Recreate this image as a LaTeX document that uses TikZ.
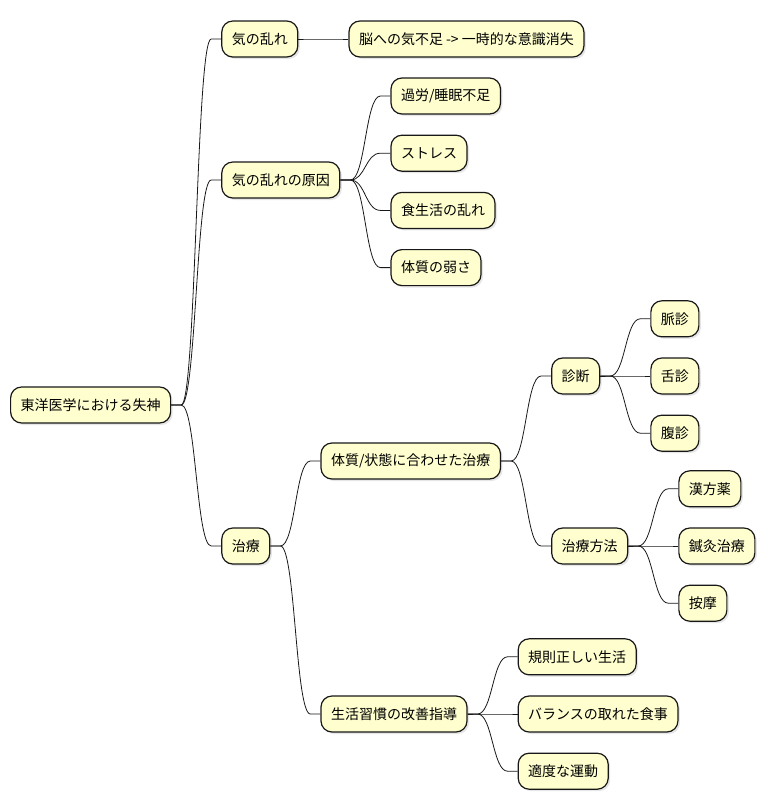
\documentclass[tikz,border=0pt]{standalone}
\usepackage{fontspec}
\setmainfont{Noto Sans CJK JP}
\usepackage{xcolor}
\usetikzlibrary{positioning,shadows}
\definecolor{mmFill}{HTML}{FEFECE}
\definecolor{mmInk}{HTML}{181818}
\newcommand{\branch}[2]{\draw[link] (#1.east) -- ++(10pt,0)
  .. controls +(15pt,0) and +(-15pt,0) .. ([xshift=-10pt]#2.west) -- (#2.west);}
\tikzset{
  topic/.style={rounded corners=11pt,draw=mmInk,line width=1.2pt,fill=mmFill,
                minimum height=36pt,inner xsep=10pt,inner ysep=0pt,
                font=\fontsize{14pt}{17pt}\selectfont,
                drop shadow={opacity=0.2,shadow xshift=2pt,shadow yshift=-2pt}},
  link/.style={draw=mmInk,line width=0.8pt},
}

\begin{document}
\begin{tikzpicture}
  \useasboundingbox (0,0) rectangle (759pt,-809pt);
  \node[topic,anchor=west] (root) at (10pt,-405pt) {東洋医学における失神};
  % first level
  \node[topic,right=50pt of root,yshift=366pt] (ki) {気の乱れ};
  \node[topic,right=50pt of root,yshift=225pt] (cause) {気の乱れの原因};
  \node[topic,right=50pt of root,yshift=-141pt] (cure) {治療};
  \node[topic,right=50pt of ki] (lack) {脳への気不足 -> 一時的な意識消失};
  % causes
  \node[topic,right=50pt of cause,yshift=84pt] (c1) {過労/睡眠不足};
  \node[topic,below=20pt of c1.south west,anchor=north west] (c2) {ストレス};
  \node[topic,below=20pt of c2.south west,anchor=north west] (c3) {食生活の乱れ};
  \node[topic,below=20pt of c3.south west,anchor=north west] (c4) {体質の弱さ};
  % treatment
  \node[topic,right=50pt of cure,yshift=85pt] (fit) {体質/状態に合わせた治療};
  \node[topic,right=50pt of cure,yshift=-168pt] (life) {生活習慣の改善指導};
  \node[topic,right=50pt of fit,yshift=85pt] (diag) {診断};
  \node[topic,right=50pt of fit,yshift=-85pt] (way) {治療方法};
  \node[topic,right=50pt of diag] (d2) {舌診};
  \node[topic,above=20pt of d2.north west,anchor=south west] (d1) {脈診};
  \node[topic,below=20pt of d2.south west,anchor=north west] (d3) {腹診};
  \node[topic,right=50pt of way] (w2) {鍼灸治療};
  \node[topic,above=20pt of w2.north west,anchor=south west] (w1) {漢方薬};
  \node[topic,below=20pt of w2.south west,anchor=north west] (w3) {按摩};
  \node[topic,right=50pt of life] (l2) {バランスの取れた食事};
  \node[topic,above=20pt of l2.north west,anchor=south west] (l1) {規則正しい生活};
  \node[topic,below=20pt of l2.south west,anchor=north west] (l3) {適度な運動};

  \foreach \c in {ki,cause,cure} {\branch{root}{\c}}
  \branch{ki}{lack}
  \foreach \c in {c1,c2,c3,c4} {\branch{cause}{\c}}
  \foreach \c in {fit,life} {\branch{cure}{\c}}
  \foreach \c in {diag,way} {\branch{fit}{\c}}
  \foreach \c in {d1,d2,d3} {\branch{diag}{\c}}
  \foreach \c in {w1,w2,w3} {\branch{way}{\c}}
  \foreach \c in {l1,l2,l3} {\branch{life}{\c}}
\end{tikzpicture}
\end{document}
